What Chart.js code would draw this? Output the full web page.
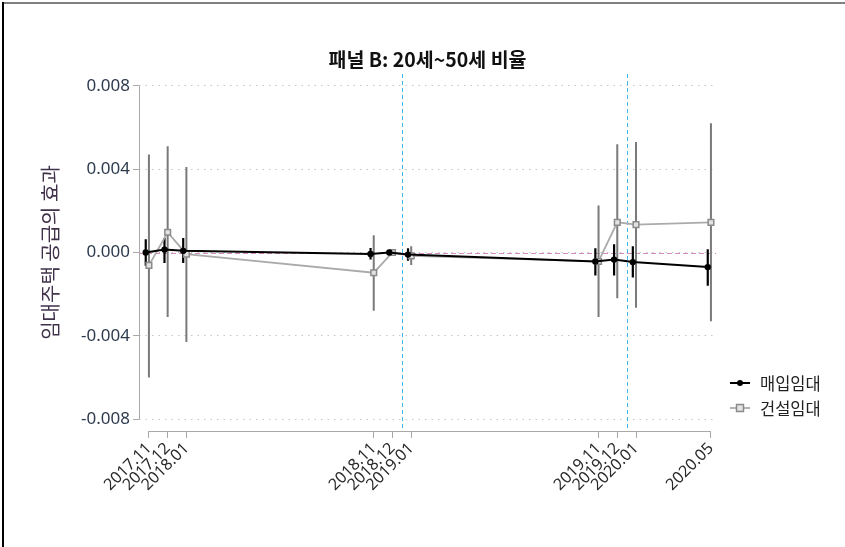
<!DOCTYPE html>
<html><head><meta charset="utf-8">
<script src="https://cdn.jsdelivr.net/npm/chart.js@4"></script>
<style>html,body{margin:0;padding:0;background:#fff}#wrap{width:845px;height:547px;position:relative}</style>
</head><body><div id="wrap"><canvas id="c" width="845" height="547"></canvas></div>
<script>
// ---- data ----
const periods = ['2017.11','2017.12','2018.01','2018.11','2018.12','2019.01','2019.11','2019.12','2020.01','2020.05'];
const seriesNames = ['매입임대','건설임대'];
const buyCoef = [0.0000, 0.00014, 0.00008, -0.00007, 0.0000, -0.00010, -0.00043, -0.00034, -0.00046, -0.00070];
const buyLo   = [-0.00064, -0.00050, -0.00050, -0.00034, 0.0000, -0.00040, -0.00110, -0.00110, -0.00120, -0.00160];
const buyHi   = [0.00064, 0.00070, 0.00070, 0.00022, 0.0000, 0.00020, 0.00020, 0.00040, 0.00030, 0.00016];
const buildCoef = [-0.00062, 0.00097, -0.00008, -0.00097, 0.0000, -0.00016, -0.00043, 0.00145, 0.00134, 0.00145];
const buildLo   = [-0.00600, -0.00310, -0.00430, -0.00280, 0.0000, -0.00060, -0.00310, -0.00220, -0.00265, -0.00330];
const buildHi   = [0.00470, 0.00510, 0.00410, 0.00083, 0.0000, 0.00030, 0.00226, 0.00520, 0.00530, 0.00620];
const yTicks = [-0.008, -0.004, 0, 0.004, 0.008];
const eventLines = [13.5, 25.5]; // month index (between 2018.12/2019.01 and 2019.12/2020.01)
const titleText = '패널 B: 20세~50세 비율';
const yTitle = '임대주택 공급의 효과';

// month index from 2017.11
const mi = p => { const [y, m] = p.split('.').map(Number); return (y - 2017) * 12 + (m - 11); };
const FONT = "'Noto Sans', 'Noto Sans CJK KR', sans-serif";
const buyShift = -0.17, buildShift = 0.0;

const line = (coef, sh) => periods.map((p, i) => ({x: mi(p) + sh, y: coef[i]}));
const ci = (lo, hi, sh) => {
  const out = [];
  periods.forEach((p, i) => {
    out.push({x: mi(p) + sh, y: lo[i]});
    out.push({x: mi(p) + sh, y: hi[i]});
    out.push({x: mi(p) + sh, y: null});
  });
  return out;
};

const overlay = {
  id: 'overlay',
  beforeDraw(chart) {
    const ctx = chart.ctx;
    ctx.save();
    ctx.fillStyle = '#fff';
    ctx.fillRect(0, 0, chart.width, chart.height);
    ctx.fillStyle = '#808080';
    ctx.fillRect(2, 2, chart.width - 2, 2);
    ctx.fillStyle = '#000';
    ctx.fillRect(2, 2, 2, chart.height - 2);
    ctx.restore();
  },
  beforeDatasetsDraw(chart) {
    const {ctx, chartArea: a, scales: {x, y}} = chart;
    ctx.save();
    // zero reference line
    ctx.strokeStyle = '#d88bbf';
    ctx.lineWidth = 1;
    ctx.setLineDash([5, 3]);
    const y0 = Math.round(y.getPixelForValue(0)) + 0.5;
    ctx.beginPath(); ctx.moveTo(a.left, y0); ctx.lineTo(a.right, y0); ctx.stroke();
    // event lines
    ctx.strokeStyle = '#3fb4ea';
    ctx.setLineDash([4, 3]);
    eventLines.forEach(v => {
      const px = Math.round(x.getPixelForValue(v)) + 0.5;
      ctx.beginPath(); ctx.moveTo(px, a.top); ctx.lineTo(px, a.bottom); ctx.stroke();
    });
    // axis lines
    ctx.setLineDash([]);
    ctx.strokeStyle = '#a9a9a9';
    ctx.lineWidth = 1;
    const lx = a.left + 0.5;
    ctx.beginPath();
    ctx.moveTo(lx, y.getPixelForValue(yTicks[yTicks.length - 1]));
    ctx.lineTo(lx, y.getPixelForValue(yTicks[0]));
    ctx.stroke();
    const by = a.bottom + 0.5;
    ctx.beginPath();
    ctx.moveTo(x.getPixelForValue(mi(periods[0])), by);
    ctx.lineTo(x.getPixelForValue(mi(periods[periods.length - 1])), by);
    ctx.stroke();
    ctx.restore();
  },
  afterDraw(chart) {
    const ctx = chart.ctx;
    const ds = chart.data.datasets;
    ctx.save();
    ctx.font = "16.5px 'Noto Sans CJK KR', sans-serif";
    ctx.textBaseline = 'middle';
    ctx.textAlign = 'left';
    [0, 1].forEach(i => {
      const d = ds[i];
      const yy = 383 + i * 25;
      ctx.strokeStyle = d.borderColor;
      ctx.lineWidth = d.borderWidth;
      ctx.beginPath(); ctx.moveTo(730, yy); ctx.lineTo(750, yy); ctx.stroke();
      if (d.pointStyle === 'rect') {
        const s = 7;
        ctx.fillStyle = d.pointBackgroundColor;
        ctx.fillRect(740 - s / 2, yy - s / 2, s, s);
        ctx.strokeStyle = d.pointBorderColor;
        ctx.lineWidth = d.pointBorderWidth;
        ctx.strokeRect(740 - s / 2, yy - s / 2, s, s);
      } else {
        ctx.fillStyle = d.pointBackgroundColor;
        ctx.beginPath(); ctx.arc(740, yy, 3, 0, Math.PI * 2); ctx.fill();
      }
      ctx.fillStyle = '#222';
      ctx.fillText(d.label, 760, yy + 1);
    });
    ctx.restore();
  }
};

new Chart(document.getElementById('c'), {
  type: 'line',
  data: {
    datasets: [
      {label: seriesNames[0], data: line(buyCoef, buyShift), borderColor: '#000', borderWidth: 2,
       pointStyle: 'circle', pointRadius: 3.2, pointBackgroundColor: '#000', pointBorderColor: '#000', pointBorderWidth: 0, tension: 0},
      {label: seriesNames[1], data: line(buildCoef, buildShift), borderColor: '#ababab', borderWidth: 1.8,
       pointStyle: 'rect', pointRadius: 4, pointBackgroundColor: '#e2e2e2', pointBorderColor: '#8a8a8a', pointBorderWidth: 1.5, tension: 0},
      {label: 'ci1', data: ci(buyLo, buyHi, buyShift), borderColor: '#000', borderWidth: 2.2, pointRadius: 0, spanGaps: false},
      {label: 'ci2', data: ci(buildLo, buildHi, buildShift), borderColor: '#7a7a7a', borderWidth: 2, pointRadius: 0, spanGaps: false}
    ]
  },
  options: {
    responsive: false, animation: false, devicePixelRatio: 1,
    layout: {padding: {left: 0, right: 129, top: 0, bottom: 0}},
    plugins: {
      legend: {display: false}, tooltip: {enabled: false},
      title: {display: true, text: titleText, fullSize: false, color: '#111',
        font: {family: "'Noto Sans CJK KR', sans-serif", size: 19.5, weight: 'bold'}, padding: {top: 47.6, bottom: 3}}
    },
    scales: {
      x: {
        type: 'linear', min: -0.53, max: 30.27,
        afterBuildTicks: s => { s.ticks = periods.map(p => ({value: mi(p)})); },
        afterFit: s => { s.height = 116; },
        ticks: {autoSkip: false, minRotation: 45, maxRotation: 45, padding: 1, color: '#2a2a2a',
          font: {family: FONT, size: 16}, callback: (v, i) => periods[i]},
        grid: {drawOnChartArea: false, drawTicks: true, tickLength: 7, tickColor: '#a9a9a9', tickWidth: 1},
        border: {display: false}
      },
      y: {
        type: 'linear', min: -0.00857, max: 0.00857,
        afterBuildTicks: s => { s.ticks = yTicks.map(v => ({value: v})); },
        afterFit: s => { s.width = 139; },
        ticks: {padding: 3, color: '#2e3b4e', font: {family: FONT, size: 17}, callback: v => v.toFixed(3)},
        grid: {color: '#c4c4c4', lineWidth: 1, drawTicks: true, tickLength: 6, tickColor: '#a9a9a9', tickWidth: 1, tickBorderDash: []},
        border: {display: false, dash: [1.5, 5]},
        title: {display: true, text: yTitle, color: '#40304a', font: {family: "'Noto Sans CJK KR', sans-serif", size: 20}, padding: {top: 38, bottom: 0}}
      }
    }
  },
  plugins: [overlay]
});
</script></body></html>
